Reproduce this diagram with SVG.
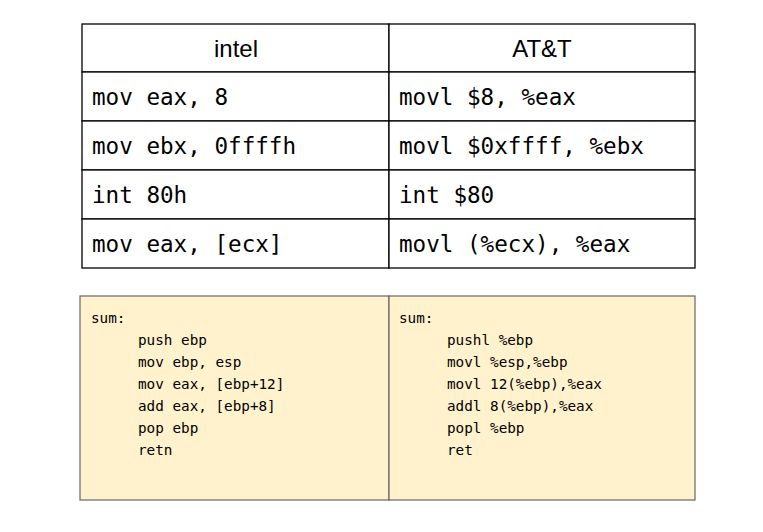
<svg xmlns="http://www.w3.org/2000/svg" width="763" height="532" viewBox="0 0 763 532">
<style>
.cell{fill:#fff;stroke:#000;stroke-width:1.3}
.hd{font-family:"Liberation Sans",Arial,sans-serif;font-size:24px;fill:#000;text-anchor:middle}
.mono{font-family:"DejaVu Sans Mono","Liberation Mono",monospace;font-size:22.6px;fill:#000}
.box{fill:#fff2cc;stroke:#666;stroke-width:1.2}
.code{font-family:"DejaVu Sans Mono","Liberation Mono",monospace;font-size:14.3px;fill:#000}
</style>
<rect width="763" height="532" fill="#fff"/>
<g id="table">
<rect class="cell" x="82" y="24" width="307" height="48"/>
<rect class="cell" x="389" y="24" width="306" height="48"/>
<rect class="cell" x="82" y="72" width="307" height="49"/>
<rect class="cell" x="389" y="72" width="306" height="49"/>
<rect class="cell" x="82" y="121" width="307" height="49"/>
<rect class="cell" x="389" y="121" width="306" height="49"/>
<rect class="cell" x="82" y="170" width="307" height="49"/>
<rect class="cell" x="389" y="170" width="306" height="49"/>
<rect class="cell" x="82" y="219" width="307" height="49"/>
<rect class="cell" x="389" y="219" width="306" height="49"/>
<text class="hd" x="236" y="57">intel</text>
<text class="hd" x="542" y="57">AT&amp;T</text>
<text class="mono" x="92" y="105">mov eax, 8</text>
<text class="mono" x="399" y="105">movl $8, %eax</text>
<text class="mono" x="92" y="154">mov ebx, 0ffffh</text>
<text class="mono" x="399" y="154">movl $0xffff, %ebx</text>
<text class="mono" x="92" y="203">int 80h</text>
<text class="mono" x="399" y="203">int $80</text>
<text class="mono" x="92" y="252">mov eax, [ecx]</text>
<text class="mono" x="399" y="252">movl (%ecx), %eax</text>
</g>
<g id="codebox">
<rect class="box" x="80" y="296" width="309" height="204"/>
<rect class="box" x="389" y="296" width="306" height="204"/>
<g id="intel-code" class="code">
<text x="91" y="323">sum:</text>
<text x="138" y="345">push ebp</text>
<text x="138" y="367">mov ebp, esp</text>
<text x="138" y="389">mov eax, [ebp+12]</text>
<text x="138" y="411">add eax, [ebp+8]</text>
<text x="138" y="433">pop ebp</text>
<text x="138" y="455">retn</text>
</g>
<g id="att-code" class="code">
<text x="399" y="323">sum:</text>
<text x="447" y="345">pushl %ebp</text>
<text x="447" y="367">movl %esp,%ebp</text>
<text x="447" y="389">movl 12(%ebp),%eax</text>
<text x="447" y="411">addl 8(%ebp),%eax</text>
<text x="447" y="433">popl %ebp</text>
<text x="447" y="455">ret</text>
</g>
</g>
</svg>
